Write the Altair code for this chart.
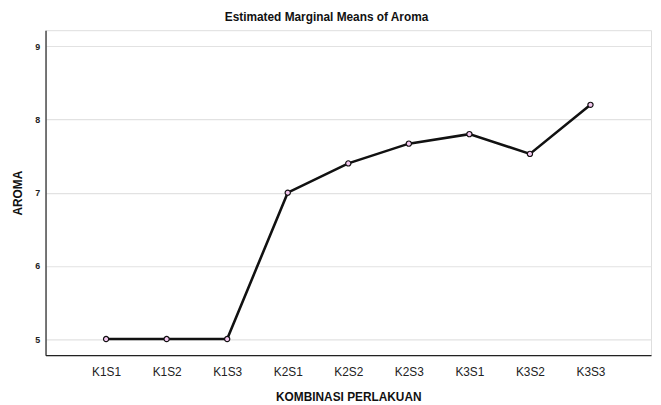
import altair as alt
import pandas as pd

categories = ["K1S1", "K1S2", "K1S3", "K2S1", "K2S2", "K2S3", "K3S1", "K3S2", "K3S3"]
means = [5.0, 5.0, 5.0, 7.0, 7.4, 7.67, 7.8, 7.53, 8.2]
y_ticks = [5, 6, 7, 8, 9]

df = pd.DataFrame({"cat": categories, "mean": means})

FONT = "Liberation Sans"

x = alt.X("cat:N", sort=categories,
          scale=alt.Scale(type="point", padding=1),
          axis=alt.Axis(title="KOMBINASI PERLAKUAN", labelAngle=0, ticks=False,
                        labelFontSize=12, labelFont=FONT, labelColor="#222",
                        labelPadding=12, titleFont=FONT, titleFontSize=12,
                        titleFontWeight="bold", titleColor="#111", titlePadding=14,
                        domainColor="#222", domainWidth=1.2, grid=False))
y = alt.Y("mean:Q",
          scale=alt.Scale(domain=[4.78, 9.22], nice=False, zero=False),
          axis=alt.Axis(title="AROMA", values=y_ticks, format="d", ticks=False,
                        labelFontSize=9, labelFont=FONT, labelFontWeight="bold",
                        labelColor="#222", labelPadding=6,
                        titleFont=FONT, titleFontSize=12, titleFontWeight="bold",
                        titleColor="#111", titlePadding=10,
                        domainColor="#222", domainWidth=1.2,
                        grid=True, gridColor="#e2e2e2", gridWidth=1.2))

base = alt.Chart(df).encode(x=x, y=y)
line = base.mark_line(color="#111", strokeWidth=2.6)
pts = base.mark_point(filled=True, fill="#f4c8f0", stroke="#111", strokeWidth=1.2,
                      size=28, opacity=1, shape="circle")

chart = (line + pts).properties(
    width=613, height=329,
    autosize=alt.AutoSizeParams(type="none"),
    padding={"left": 38, "top": 20, "right": 2, "bottom": 48},
    title=alt.TitleParams("Estimated Marginal Means of Aroma", font=FONT, fontSize=12,
                          fontWeight="bold", color="#111", anchor="middle", dx=-22,
                          offset=6),
).configure_view(stroke=None).configure(background="white")

chart.save("out.html", embed_options={"renderer": "svg", "actions": False})
